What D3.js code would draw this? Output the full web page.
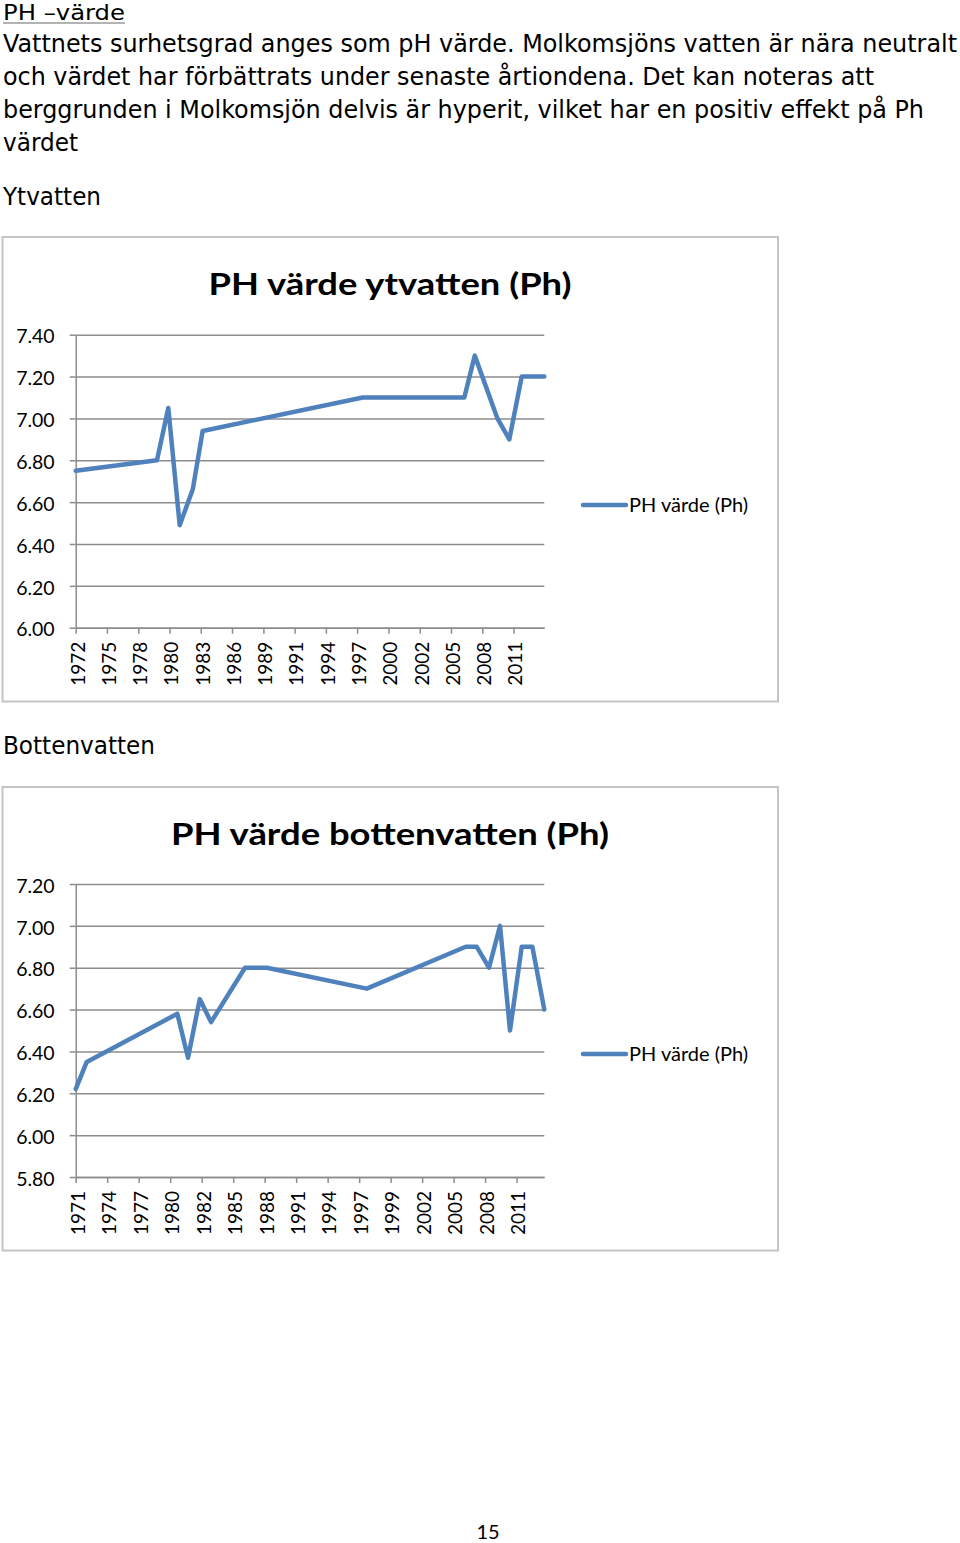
<!DOCTYPE html>
<html><head><meta charset="utf-8">
<script src="https://cdn.jsdelivr.net/npm/d3@7"></script>
<style>
html,body{margin:0;padding:0;background:#fff}
svg{display:block}
</style>
</head><body>
<svg id="page" width="960" height="1543"></svg>
<script>
// ---------------- DATA ----------------
const headingText = "PH –värde";
const bodyLines = [
  "Vattnets surhetsgrad anges som pH värde. Molkomsjöns vatten är nära neutralt",
  "och värdet har förbättrats under senaste årtiondena. Det kan noteras att",
  "berggrunden i Molkomsjön delvis är hyperit, vilket har en positiv effekt på Ph",
  "värdet"
];
const sectionLabels = ["Ytvatten", "Bottenvatten"];
const seriesName = "PH värde (Ph)";

// Surface water (ytvatten): sample dates and pH
const surfaceTitle = "PH värde ytvatten (Ph)";
const surfaceDates = ["1972-08-01","1979-09-25","1980-09-22","1981-09-23","1982-11-15","1983-10-01",
  "1997-10-28","2006-10-04","2007-09-04","2009-09-01","2010-09-18","2011-10-21","2013-10-15"];
const surfacePH = [6.75, 6.80, 7.05, 6.49, 6.66, 6.94, 7.10, 7.10, 7.30, 7.00, 6.90, 7.20, 7.20];
const surfaceXTickLabels = ["1972","1975","1978","1980","1983","1986","1989","1991","1994","1997","2000","2002","2005","2008","2011"];
const surfaceXTickMonths = 33;
const surfaceYTicks = [6.00, 6.20, 6.40, 6.60, 6.80, 7.00, 7.20, 7.40];

// Bottom water (bottenvatten)
const bottomTitle = "PH värde bottenvatten (Ph)";
const bottomDates = ["1971-07-15","1972-07-12","1980-09-05","1981-08-22","1982-09-12","1983-09-18",
  "1986-10-08","1988-09-21","1997-09-21","2006-08-18","2007-08-15","2008-09-21","2009-09-18",
  "2010-08-12","2011-09-01","2012-08-15","2013-09-12"];
const bottomPH = [6.22, 6.35, 6.58, 6.37, 6.65, 6.54, 6.80, 6.80, 6.70, 6.90, 6.90, 6.80, 7.00, 6.50, 6.90, 6.90, 6.60];
const bottomXTickLabels = ["1971","1974","1977","1980","1982","1985","1988","1991","1994","1997","1999","2002","2005","2008","2011"];
const bottomXTickMonths = 34;
const bottomYTicks = [5.80, 6.00, 6.20, 6.40, 6.60, 6.80, 7.00, 7.20];

const pageNumber = "15";

// ---------------- DRAWING ----------------
const svg = d3.select("#page");
const bodyFont = "'DejaVu Sans', Verdana, sans-serif";
const chartFont = "Lato, Carlito, Calibri, sans-serif";
const lineColor = "#4f81bd";
const gridColor = "#8c8c8c";
const parse = d3.timeParse("%Y-%m-%d");

// Heading + body text
svg.append("text").attr("x", 3).attr("y", 19.5)
  .attr("font-family", bodyFont).attr("font-size", 22)
  .attr("textLength", 122).attr("lengthAdjust", "spacingAndGlyphs")
  .text(headingText);
svg.append("line").attr("x1", 3).attr("x2", 125).attr("y1", 23).attr("y2", 23)
  .attr("stroke", "#9a9a9a").attr("stroke-width", 1.5);

const bodyWidths = [954, 871, 921, 75];
svg.selectAll("text.body").data(bodyLines).join("text")
  .attr("class", "body")
  .attr("x", 3).attr("y", (d, i) => 52 + i * 33)
  .attr("font-family", bodyFont).attr("font-size", 24)
  .attr("textLength", (d, i) => bodyWidths[i]).attr("lengthAdjust", "spacingAndGlyphs")
  .text(d => d);

const sectionPos = [{y: 205, w: 98}, {y: 754, w: 152}];
svg.selectAll("text.section").data(sectionLabels).join("text")
  .attr("class", "section")
  .attr("x", 3).attr("y", (d, i) => sectionPos[i].y)
  .attr("font-family", bodyFont).attr("font-size", 24)
  .attr("textLength", (d, i) => sectionPos[i].w).attr("lengthAdjust", "spacingAndGlyphs")
  .text(d => d);

function drawChart(o) {
  const g = svg.append("g");
  // frame
  g.append("rect").attr("x", 2.5).attr("y", o.frameTop).attr("width", 775.5).attr("height", o.frameBottom - o.frameTop)
    .attr("fill", "#fff").attr("stroke", "#c4c4c4").attr("stroke-width", 2);

  const dates = o.dates.map(parse);
  const data = dates.map((d, i) => ({date: d, v: o.values[i]}));
  const x = d3.scaleTime().domain(d3.extent(dates)).range([75.7, 544.3]);
  const y = d3.scaleLinear().domain(d3.extent(o.yTicks)).range([o.plotBottom, o.plotTop]);

  // title
  g.append("text").attr("x", 390).attr("y", o.titleY)
    .attr("text-anchor", "middle").attr("font-family", chartFont).attr("font-weight", 700)
    .attr("font-size", 31).attr("textLength", o.titleW).attr("lengthAdjust", "spacingAndGlyphs")
    .text(o.title);

  // gridlines
  g.append("g").attr("transform", `translate(${x.range()[0]},0)`)
    .call(d3.axisLeft(y).tickValues(o.yTicks).tickSize(-(x.range()[1] - x.range()[0])).tickFormat(""))
    .call(s => s.select(".domain").remove())
    .call(s => s.selectAll(".tick line").attr("stroke", gridColor).attr("stroke-width", 1.5));

  // y axis
  g.append("g").attr("transform", `translate(${x.range()[0]},0)`)
    .call(d3.axisLeft(y).tickValues(o.yTicks).tickSize(6).tickSizeOuter(0).tickPadding(15).tickFormat(d3.format(".2f")))
    .call(s => s.select(".domain").attr("stroke", gridColor).attr("stroke-width", 1.5))
    .call(s => s.selectAll(".tick line").attr("stroke", gridColor).attr("stroke-width", 1.5))
    .call(s => s.selectAll(".tick text").attr("font-family", chartFont).attr("font-size", 19.5)
      .attr("fill", "#000").attr("dy", "0.42em"));

  // x axis
  const d0 = dates[0];
  const tickDates = o.xLabels.map((l, i) => d3.timeMonth.offset(d0, o.stepMonths * i));
  g.append("g").attr("transform", `translate(0,${o.plotBottom})`)
    .call(d3.axisBottom(x).tickValues(tickDates).tickSize(6).tickSizeOuter(0)
      .tickFormat((d, i) => o.xLabels[i]))
    .call(s => s.select(".domain").attr("stroke", gridColor).attr("stroke-width", 1.5))
    .call(s => s.selectAll(".tick line").attr("stroke", gridColor).attr("stroke-width", 1.5))
    .call(s => s.selectAll(".tick text").attr("font-family", chartFont).attr("font-size", 19)
      .attr("fill", "#000")
      .attr("text-anchor", "end").attr("transform", "rotate(-90)")
      .attr("x", -14).attr("y", 1.5).attr("dy", "0.36em"));

  // series line
  const line = d3.line().x(d => x(d.date)).y(d => y(d.v));
  g.append("path").datum(data).attr("d", line)
    .attr("fill", "none").attr("stroke", lineColor).attr("stroke-width", 4.5)
    .attr("stroke-linejoin", "round").attr("stroke-linecap", "round");

  // legend
  g.append("line").attr("x1", 583).attr("x2", 626).attr("y1", o.legendY).attr("y2", o.legendY)
    .attr("stroke", lineColor).attr("stroke-width", 4.5).attr("stroke-linecap", "round");
  g.append("text").attr("x", 629).attr("y", o.legendY).attr("dy", "0.36em")
    .attr("font-family", chartFont).attr("font-size", 20).text(seriesName);
}

drawChart({
  frameTop: 237, frameBottom: 701.5, plotTop: 334.7, plotBottom: 627.7, titleY: 295, titleW: 363,
  title: surfaceTitle, dates: surfaceDates, values: surfacePH, yTicks: surfaceYTicks,
  xLabels: surfaceXTickLabels, stepMonths: surfaceXTickMonths, legendY: 505
});
drawChart({
  frameTop: 787, frameBottom: 1250.5, plotTop: 884, plotBottom: 1177, titleY: 845, titleW: 438,
  title: bottomTitle, dates: bottomDates, values: bottomPH, yTicks: bottomYTicks,
  xLabels: bottomXTickLabels, stepMonths: bottomXTickMonths, legendY: 1054
});

svg.append("text").attr("x", 488).attr("y", 1539).attr("text-anchor", "middle")
  .attr("font-family", chartFont).attr("font-size", 20).text(pageNumber);
</script>
</body></html>
